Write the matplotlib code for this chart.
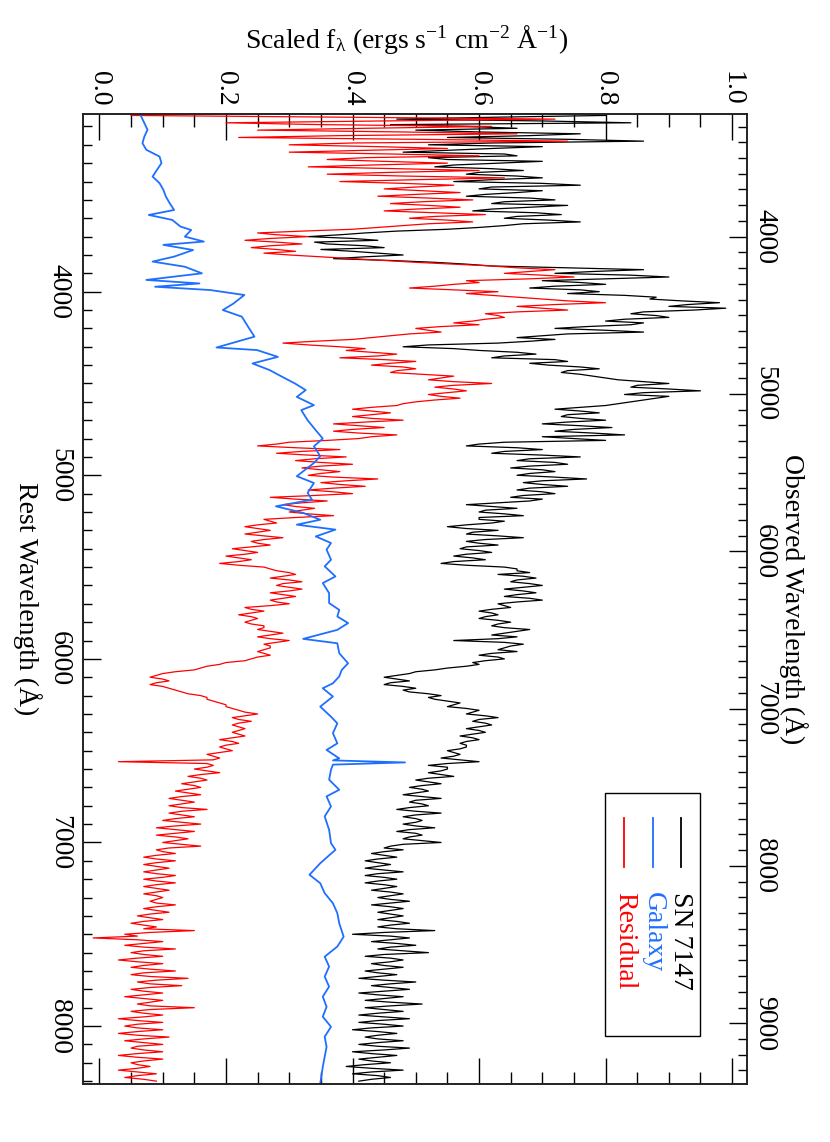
import matplotlib
matplotlib.use('Agg')
import matplotlib.pyplot as plt
import numpy as np
from matplotlib.ticker import MultipleLocator, FormatStrFormatter
from matplotlib.patches import Rectangle

# ---------------- data ----------------
wave = np.arange(3040, 8301, 20)       # rest wavelength grid (A)
wave_mid = np.arange(3050, 8291, 20)   # in-between samples (A)

sn_flux = [
    0.80, 0.47, 0.84, 0.58, 0.50, 0.76, 0.55, 0.86, 0.52, 0.62,
    0.48, 0.66, 0.55, 0.63, 0.53, 0.67, 0.58, 0.70, 0.56, 0.76,
    0.60, 0.66, 0.58, 0.72, 0.62, 0.68, 0.59, 0.73, 0.64, 0.76,
    0.64, 0.55, 0.42, 0.33, 0.44, 0.36, 0.45, 0.40, 0.48, 0.37,
    0.53, 0.62, 0.86, 0.72, 0.90, 0.70, 0.80, 0.68, 0.79, 0.83,
    0.87, 0.98, 0.90, 0.94, 0.84, 0.90, 0.80, 0.84, 0.72, 0.86,
    0.70, 0.72, 0.63, 0.48, 0.60, 0.69, 0.62, 0.74, 0.71, 0.79,
    0.73, 0.78, 0.82, 0.90, 0.84, 0.95, 0.83, 0.88, 0.84, 0.80,
    0.72, 0.79, 0.73, 0.80, 0.70, 0.81, 0.72, 0.83, 0.75, 0.64,
    0.58, 0.70, 0.62, 0.76, 0.66, 0.74, 0.65, 0.72, 0.66, 0.77,
    0.67, 0.74, 0.66, 0.72, 0.65, 0.68, 0.58, 0.66, 0.60, 0.67,
    0.60, 0.62, 0.55, 0.63, 0.58, 0.67, 0.58, 0.63, 0.57, 0.62,
    0.56, 0.61, 0.54, 0.64, 0.66, 0.63, 0.69, 0.65, 0.70, 0.64,
    0.69, 0.64, 0.70, 0.63, 0.65, 0.60, 0.63, 0.60, 0.65, 0.62,
    0.68, 0.64, 0.66, 0.56, 0.67, 0.64, 0.66, 0.60, 0.64, 0.59,
    0.58, 0.53, 0.49, 0.45, 0.49, 0.45, 0.50, 0.49, 0.54, 0.53,
    0.57, 0.55, 0.60, 0.58, 0.63, 0.59, 0.62, 0.58, 0.61, 0.57,
    0.60, 0.57, 0.58, 0.55, 0.57, 0.54, 0.60, 0.52, 0.55, 0.52,
    0.56, 0.50, 0.54, 0.49, 0.52, 0.48, 0.54, 0.49, 0.52, 0.47,
    0.54, 0.48, 0.51, 0.48, 0.53, 0.47, 0.51, 0.48, 0.54, 0.46,
    0.48, 0.43, 0.47, 0.42, 0.46, 0.42, 0.48, 0.42, 0.47, 0.42,
    0.47, 0.43, 0.48, 0.44, 0.49, 0.43, 0.48, 0.44, 0.48, 0.44,
    0.49, 0.44, 0.53, 0.40, 0.49, 0.43, 0.50, 0.44, 0.52, 0.42,
    0.48, 0.43, 0.48, 0.42, 0.47, 0.41, 0.50, 0.43, 0.49, 0.41,
    0.48, 0.42, 0.51, 0.42, 0.48, 0.41, 0.49, 0.41, 0.48, 0.40,
    0.47, 0.42, 0.48, 0.41, 0.49, 0.40, 0.47, 0.41, 0.46, 0.39,
    0.48, 0.40, 0.46, 0.41,
]
sn_mid = [
    0.62, 0.70, 0.46, 0.66, 0.60, 0.68, 0.74, 0.62, 0.70, 0.55,
    0.64, 0.52, 0.70, 0.56, 0.62, 0.60, 0.66, 0.62, 0.70, 0.62,
    0.70, 0.61, 0.68, 0.64, 0.74, 0.62, 0.69, 0.66, 0.71, 0.67,
    0.60, 0.47, 0.38, 0.40, 0.34, 0.42, 0.35, 0.44, 0.42, 0.46,
    0.58, 0.74, 0.78, 0.84, 0.80, 0.76, 0.72, 0.76, 0.74, 0.88,
    0.92, 0.93, 0.99, 0.86, 0.88, 0.83, 0.86, 0.77, 0.80, 0.74,
    0.66, 0.68, 0.52, 0.56, 0.66, 0.64, 0.72, 0.68, 0.76, 0.74,
    0.76, 0.80, 0.86, 0.85, 0.90, 0.86, 0.90, 0.86, 0.82, 0.76,
    0.76, 0.74, 0.76, 0.74, 0.76, 0.75, 0.78, 0.70, 0.80, 0.60,
    0.66, 0.64, 0.70, 0.68, 0.72, 0.68, 0.70, 0.68, 0.72, 0.70,
    0.70, 0.68, 0.70, 0.67, 0.70, 0.63, 0.62, 0.61, 0.64, 0.60,
    0.64, 0.58, 0.58, 0.59, 0.63, 0.61, 0.60, 0.58, 0.60, 0.58,
    0.59, 0.56, 0.58, 0.66, 0.68, 0.67, 0.66, 0.68, 0.67, 0.67,
    0.66, 0.68, 0.66, 0.64, 0.62, 0.62, 0.61, 0.63, 0.63, 0.64,
    0.66, 0.62, 0.63, 0.64, 0.65, 0.63, 0.62, 0.63, 0.61, 0.60,
    0.55, 0.50, 0.47, 0.47, 0.46, 0.48, 0.48, 0.52, 0.52, 0.55,
    0.56, 0.58, 0.59, 0.61, 0.60, 0.61, 0.60, 0.60, 0.59, 0.59,
    0.58, 0.58, 0.57, 0.56, 0.56, 0.57, 0.55, 0.55, 0.54, 0.54,
    0.52, 0.52, 0.51, 0.51, 0.50, 0.51, 0.50, 0.51, 0.49, 0.50,
    0.50, 0.50, 0.50, 0.50, 0.49, 0.50, 0.49, 0.51, 0.48, 0.45,
    0.45, 0.45, 0.44, 0.44, 0.44, 0.45, 0.44, 0.45, 0.44, 0.45,
    0.45, 0.46, 0.46, 0.46, 0.46, 0.46, 0.46, 0.46, 0.46, 0.47,
    0.46, 0.47, 0.45, 0.46, 0.46, 0.47, 0.46, 0.48, 0.45, 0.46,
    0.46, 0.45, 0.45, 0.44, 0.44, 0.45, 0.46, 0.46, 0.45, 0.44,
    0.45, 0.46, 0.46, 0.45, 0.44, 0.45, 0.44, 0.45, 0.43, 0.44,
    0.44, 0.44, 0.44, 0.44, 0.45, 0.43, 0.44, 0.43, 0.42, 0.43,
    0.43, 0.44, 0.43,
]

res_flux = [
    0.05, 0.72, 0.20, 0.62, 0.25, 0.66, 0.22, 0.74, 0.30, 0.55,
    0.30, 0.60, 0.36, 0.55, 0.33, 0.60, 0.36, 0.64, 0.38, 0.56,
    0.45, 0.57, 0.44, 0.59, 0.46, 0.57, 0.45, 0.61, 0.49, 0.59,
    0.48, 0.40, 0.25, 0.33, 0.23, 0.32, 0.24, 0.31, 0.30, 0.40,
    0.50, 0.62, 0.72, 0.64, 0.75, 0.58, 0.56, 0.49, 0.63, 0.62,
    0.70, 0.80, 0.66, 0.74, 0.61, 0.64, 0.59, 0.60, 0.50, 0.54,
    0.46, 0.40, 0.29, 0.38, 0.39, 0.47, 0.38, 0.50, 0.43, 0.50,
    0.46, 0.56, 0.52, 0.62, 0.53, 0.58, 0.52, 0.57, 0.50, 0.47,
    0.40, 0.46, 0.40, 0.48, 0.37, 0.45, 0.37, 0.47, 0.41, 0.30,
    0.25, 0.38, 0.28, 0.39, 0.31, 0.40, 0.32, 0.38, 0.33, 0.44,
    0.35, 0.42, 0.33, 0.40, 0.27, 0.36, 0.29, 0.34, 0.30, 0.37,
    0.26, 0.28, 0.23, 0.27, 0.23, 0.29, 0.24, 0.27, 0.21, 0.25,
    0.20, 0.24, 0.19, 0.26, 0.28, 0.31, 0.27, 0.32, 0.28, 0.32,
    0.27, 0.31, 0.27, 0.30, 0.23, 0.26, 0.22, 0.25, 0.23, 0.26,
    0.25, 0.29, 0.25, 0.30, 0.26, 0.27, 0.25, 0.27, 0.24, 0.20,
    0.17, 0.15, 0.10, 0.08, 0.11, 0.08, 0.11, 0.13, 0.16, 0.17,
    0.19, 0.20, 0.22, 0.25, 0.21, 0.24, 0.21, 0.23, 0.21, 0.23,
    0.19, 0.22, 0.19, 0.21, 0.17, 0.19, 0.03, 0.18, 0.15, 0.19,
    0.14, 0.17, 0.13, 0.16, 0.12, 0.16, 0.11, 0.15, 0.11, 0.17,
    0.11, 0.15, 0.10, 0.16, 0.09, 0.15, 0.09, 0.14, 0.10, 0.16,
    0.09, 0.12, 0.07, 0.12, 0.07, 0.11, 0.07, 0.12, 0.07, 0.12,
    0.07, 0.11, 0.07, 0.10, 0.08, 0.12, 0.07, 0.11, 0.06, 0.10,
    0.05, 0.09, 0.15, 0.04, -0.01, 0.10, 0.04, 0.12, 0.05, 0.10,
    0.03, 0.10, 0.05, 0.12, 0.05, 0.14, 0.06, 0.13, 0.05, 0.10,
    0.04, 0.10, 0.06, 0.15, 0.05, 0.10, 0.03, 0.10, 0.04, 0.10,
    0.03, 0.11, 0.04, 0.10, 0.05, 0.10, 0.03, 0.10, 0.05, 0.08,
    0.03, 0.09, 0.04, 0.09,
]
res_mid = [
    0.40, 0.45, 0.35, 0.42, 0.48, 0.38, 0.50, 0.40, 0.44, 0.42,
    0.46, 0.42, 0.45, 0.43, 0.47, 0.46, 0.48, 0.50, 0.48, 0.50,
    0.51, 0.50, 0.52, 0.51, 0.52, 0.50, 0.53, 0.53, 0.55, 0.52,
    0.44, 0.32, 0.28, 0.27, 0.28, 0.27, 0.28, 0.26, 0.35, 0.45,
    0.56, 0.66, 0.68, 0.70, 0.68, 0.60, 0.53, 0.56, 0.58, 0.66,
    0.74, 0.72, 0.70, 0.66, 0.63, 0.61, 0.56, 0.54, 0.52, 0.49,
    0.43, 0.34, 0.33, 0.42, 0.43, 0.44, 0.45, 0.46, 0.48, 0.47,
    0.51, 0.54, 0.56, 0.56, 0.56, 0.55, 0.54, 0.53, 0.48, 0.43,
    0.43, 0.43, 0.43, 0.42, 0.41, 0.40, 0.41, 0.43, 0.36, 0.28,
    0.31, 0.32, 0.33, 0.34, 0.35, 0.35, 0.35, 0.35, 0.37, 0.39,
    0.38, 0.37, 0.37, 0.34, 0.31, 0.32, 0.31, 0.32, 0.33, 0.31,
    0.27, 0.25, 0.25, 0.25, 0.26, 0.26, 0.25, 0.24, 0.23, 0.23,
    0.22, 0.22, 0.22, 0.27, 0.30, 0.29, 0.30, 0.29, 0.30, 0.30,
    0.29, 0.29, 0.28, 0.27, 0.24, 0.24, 0.24, 0.24, 0.24, 0.26,
    0.27, 0.27, 0.27, 0.28, 0.27, 0.26, 0.26, 0.25, 0.23, 0.19,
    0.16, 0.12, 0.09, 0.10, 0.09, 0.10, 0.12, 0.14, 0.17, 0.18,
    0.20, 0.21, 0.23, 0.23, 0.22, 0.22, 0.22, 0.22, 0.22, 0.21,
    0.21, 0.20, 0.20, 0.19, 0.18, 0.18, 0.17, 0.17, 0.17, 0.16,
    0.16, 0.15, 0.15, 0.14, 0.14, 0.13, 0.13, 0.13, 0.13, 0.13,
    0.13, 0.12, 0.13, 0.12, 0.12, 0.12, 0.12, 0.12, 0.13, 0.11,
    0.10, 0.09, 0.09, 0.09, 0.09, 0.09, 0.09, 0.10, 0.09, 0.09,
    0.09, 0.09, 0.09, 0.09, 0.09, 0.09, 0.09, 0.08, 0.08, 0.07,
    0.07, 0.07, 0.08, 0.06, 0.06, 0.07, 0.07, 0.07, 0.07, 0.06,
    0.06, 0.07, 0.08, 0.07, 0.08, 0.09, 0.08, 0.08, 0.07, 0.07,
    0.07, 0.08, 0.08, 0.08, 0.07, 0.07, 0.06, 0.06, 0.06, 0.06,
    0.06, 0.07, 0.07, 0.06, 0.07, 0.06, 0.06, 0.07, 0.06, 0.06,
    0.06, 0.06, 0.07,
]

gal_wave = [3031, 3082, 3118, 3155, 3191, 3227, 3264, 3300, 3336, 3373,
            3409, 3445, 3482, 3518, 3555, 3582, 3609, 3645, 3664, 3700,
            3727, 3745, 3773, 3809, 3836, 3864, 3900, 3936, 3955, 3973,
            3991, 4018, 4064, 4100, 4136, 4191, 4245, 4304, 4318, 4355,
            4391, 4427, 4464, 4500, 4536, 4573, 4618, 4645, 4700, 4755,
            4800, 4842, 4896, 4933, 5005, 5042, 5096, 5133, 5169, 5205,
            5242, 5269, 5296, 5333, 5369, 5405, 5460, 5496, 5551, 5587,
            5642, 5696, 5733, 5769, 5805, 5842, 5891, 5915, 5969, 6024,
            6060, 6096, 6133, 6160, 6205, 6260, 6315, 6351, 6405, 6460,
            6496, 6542, 6553, 6564, 6576, 6604, 6658, 6713, 6749, 6804,
            6858, 6931, 7004, 7040, 7113, 7176, 7222, 7276, 7331, 7385,
            7440, 7513, 7567, 7622, 7676, 7731, 7785, 7840, 7895, 7949,
            8004, 8058, 8113, 8167, 8222, 8313]
gal_flux = [0.064, 0.071, 0.076, 0.071, 0.068, 0.074, 0.095, 0.098, 0.091, 0.084,
            0.095, 0.101, 0.105, 0.111, 0.118, 0.078, 0.115, 0.128, 0.145, 0.135,
            0.165, 0.101, 0.148, 0.118, 0.084, 0.135, 0.162, 0.074, 0.158, 0.088,
            0.175, 0.229, 0.212, 0.195, 0.225, 0.235, 0.245, 0.185, 0.249, 0.282,
            0.242, 0.269, 0.289, 0.309, 0.326, 0.312, 0.339, 0.319, 0.329, 0.342,
            0.353, 0.339, 0.349, 0.339, 0.312, 0.339, 0.329, 0.336, 0.279, 0.322,
            0.349, 0.312, 0.373, 0.342, 0.366, 0.359, 0.366, 0.356, 0.373, 0.353,
            0.363, 0.363, 0.379, 0.376, 0.393, 0.376, 0.322, 0.376, 0.379, 0.393,
            0.383, 0.379, 0.369, 0.353, 0.369, 0.349, 0.366, 0.376, 0.369, 0.376,
            0.359, 0.379, 0.369, 0.483, 0.369, 0.366, 0.363, 0.379, 0.359, 0.366,
            0.356, 0.363, 0.366, 0.373, 0.349, 0.332, 0.349, 0.356, 0.369, 0.376,
            0.379, 0.386, 0.376, 0.356, 0.363, 0.356, 0.363, 0.353, 0.359, 0.353,
            0.366, 0.356, 0.359, 0.356, 0.353, 0.349]

legend_names = ['SN 7147', 'Galaxy', 'Residual']
legend_colors = ['black', '#1f6fff', '#ff0000']

flux_ticks = [0.0, 0.2, 0.4, 0.6, 0.8, 1.0]
rest_ticks = [4000, 5000, 6000, 7000, 8000]
obs_ticks = [4000, 5000, 6000, 7000, 8000, 9000]

# merge the two sample sets into one wavelength-ordered spectrum
w_all = np.concatenate([wave, wave_mid])
order = np.argsort(w_all)
w_all = w_all[order]
sn_all = np.concatenate([sn_flux, sn_mid])[order]
res_all = np.concatenate([res_flux, res_mid])[order]

# ---------------- style ----------------
plt.rcParams['font.family'] = ['Liberation Serif', 'DejaVu Serif']
plt.rcParams['mathtext.fontset'] = 'custom'
plt.rcParams['mathtext.rm'] = 'Liberation Serif'
plt.rcParams['mathtext.it'] = 'Liberation Serif:italic'
FS = 20

fig = plt.figure(figsize=(8.3, 11.42), dpi=100)
ax = fig.add_axes([0.1, 0.0512, 0.7996, 0.849])

ax.plot(sn_all, w_all, color=legend_colors[0], lw=0.9)
ax.plot(res_all, w_all, color=legend_colors[2], lw=0.9)
ax.plot(gal_flux, gal_wave, color=legend_colors[1], lw=1.3)

ax.set_xlim(-0.026, 1.023)
ax.set_ylim(8313, 3032)

ax.set_xticks(flux_ticks)
ax.xaxis.set_minor_locator(MultipleLocator(0.05))
ax.xaxis.set_major_formatter(FormatStrFormatter('%.1f'))
ax.set_yticks(rest_ticks)
ax.yaxis.set_minor_locator(MultipleLocator(100))
ax.yaxis.set_major_formatter(FormatStrFormatter('%d'))

ax.tick_params(axis='x', which='both', direction='in', top=True, bottom=True,
               labeltop=True, labelbottom=False, labelsize=FS, pad=6, width=1)
ax.tick_params(axis='x', which='major', length=19)
ax.tick_params(axis='x', which='minor', length=9)
ax.tick_params(axis='y', which='both', direction='in', left=True, right=False,
               labelleft=True, labelsize=FS, pad=8, width=1)
ax.tick_params(axis='y', which='major', length=13)
ax.tick_params(axis='y', which='minor', length=6.7)

ax2 = ax.twinx()
ax2.set_ylim(9383, 3220)
ax2.set_yticks(obs_ticks)
ax2.yaxis.set_minor_locator(MultipleLocator(100))
ax2.yaxis.set_major_formatter(FormatStrFormatter('%d'))
ax2.tick_params(axis='y', which='both', direction='in', right=True, left=False,
                labelright=True, labelsize=FS, pad=4, width=1)
ax2.tick_params(axis='y', which='major', length=13)
ax2.tick_params(axis='y', which='minor', length=6.7)

for a in (ax, ax2):
    for s in a.spines.values():
        s.set_linewidth(1.2)
        s.set_color('#222222')

for t in ax.get_xticklabels():
    t.set_rotation(-90)
    t.set_va('bottom')
    t.set_ha('center')
for t in ax.get_yticklabels():
    t.set_rotation(-90)
    t.set_va('center')
    t.set_ha('right')
for t in ax2.get_yticklabels():
    t.set_rotation(-90)
    t.set_va('center')
    t.set_ha('left')

# axis titles
fig.text(407 / 830, 1 - 40 / 1142,
         r'Scaled f$_{\mathrm{\lambda}}$ (ergs s$^{-1}$ cm$^{-2}$ Å$^{-1}$)',
         ha='center', va='center', fontsize=FS)
fig.text(27 / 830, 1 - 598.8 / 1142, 'Rest Wavelength (Å)', rotation=-90,
         ha='center', va='center', fontsize=FS)
fig.text(793 / 830, 1 - 598.8 / 1142, 'Observed Wavelength (Å)', rotation=-90,
         ha='center', va='center', fontsize=FS)

# legend drawn by hand (rotated)
ax.add_patch(Rectangle((0.7865, 0.049), 0.1431, 0.2507, transform=ax.transAxes,
                       fill=False, lw=1.0, ec='black', zorder=5))
leg_x = [0.9003, 0.8588, 0.8159]
for name, col, xx in zip(legend_names, legend_colors, leg_x):
    ax.plot([xx, xx], [0.2738, 0.2233], transform=ax.transAxes, color=col,
            lw=1.3, zorder=6)
    ax.text(xx, 0.1979, name, transform=ax.transAxes, rotation=-90,
            ha='center', va='top', color=col, fontsize=FS, zorder=6)

fig.savefig('out.png', dpi=100)
